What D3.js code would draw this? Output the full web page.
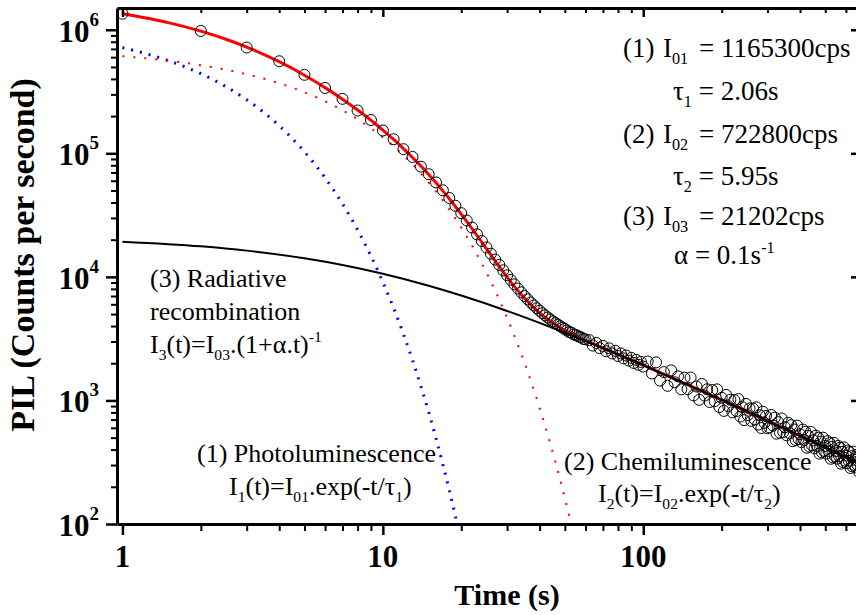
<!DOCTYPE html>
<html><head><meta charset="utf-8">
<script src="https://cdn.jsdelivr.net/npm/d3@7"></script>
<style>
body{margin:0;background:#fff}
svg{display:block}
text{font-family:"Liberation Serif","Times New Roman",serif;fill:#000}
</style>
</head><body>
<svg id="chart" width="856" height="615"></svg>
<script>
// ---------- DATA ----------
const times = [
 1,2,3,4,5,6,7,8,9,10,11,12,13,14,15,16,17,18,19,20,
 21,22,23,24,25,26,27,28,29,30,31,32,33,34,35,36,37,38,39,40,
 41,42,43,44,45,46,47,48,49,50,51,52,53,54,55,56,57,58,59,60,
 62,64,66,68,70,72,74,76,78,80,82,84,86,88,90,92,94,96,98,100,
 104,108,112,116,120,124,128,132,136,140,144,148,152,156,160,164,168,172,176,180,
 184,188,192,196,200,204,208,212,216,220,224,228,232,236,240,244,248,252,256,260,
 264,268,272,276,280,284,288,292,296,300,
 305,310,315,320,325,330,335,340,345,350,355,360,365,370,375,380,385,390,395,400,
 405,410,415,420,425,430,435,440,445,450,455,460,465,470,475,480,485,490,495,500,
 505,510,515,520,525,530,535,540,545,550,555,560,565,570,575,580,585,590,595,600,
 605,610,615,620,625,630,635,640,645,650,655,660,665,670,675,680
];
const counts = [
 1350000,978000,718000,556000,432000,338000,276000,222000,186000,153000,
 130000,108000,93500,78000,67800,58100,50200,43500,37600,32800,
 28600,25100,22100,19500,17300,15400,13800,12500,11300,10300,
 9450,8700,8050,7500,7000,6580,6200,5870,5580,5320,
 5080,4880,4690,4520,4370,4230,4110,3990,3880,3790,
 3680,3570,3540,3420,3390,3330,3260,3230,3140,3120,
 3080,2780,2920,2650,2760,2500,2640,2400,2520,2290,2400,2190,2310,2100,2210,2010,2130,1940,2050,1880,
 2065,1653,2033,1447,1696,1313,1751,1403,1568,1229,
 1528,1235,1532,1098,1297,1012,1358,1095,1231,971,
 1213,985,1229,885,1050,823,1109,898,1013,802,
 1006,820,1025,741,882,693,937,760,861,683,
 859,702,880,637,760,598,811,660,748,595,
 606,762,626,725,538,668,547,715,555,607,
 523,659,542,631,468,582,478,625,487,533,
 460,581,479,557,414,516,424,556,433,475,
 410,519,428,499,371,463,381,500,391,428,
 371,469,388,452,337,421,346,454,355,390,
 338,428,354,414,308,384,317,417,326,358,
 311,393,325,381,284,354,293,385,301,331,
 287,363,301,353,263,328
];
// fitted curves: [time, counts]
const fitTotal = [[1,1347400],[1.5,1142800],[2,975500],[2.5,838000],[3,724500],[4,551300],[5,428900],[6,340200],
 [7,274300],[8,224100],[9,185200],[10,154300],[11,129500],[12,109300],[13,92600],[14,78900],[15,67400],
 [16,57750],[17,49670],[18,42850],[19,37090],[20,32210],[22,24560],[24,19050],[26,15040],[28,12110],
 [30,9970],[32,8384],[34,7202],[36,6311],[38,5633],[40,5110],[43,4526],[46,4103],[50,3696],[55,3332],
 [60,3059],[70,2656],[80,2357],[100,1927],[150,1325],[200,1010],[300,684],[400,517],[500,416],[600,348],[700,299]];
const photoLum = [[1,717160],[1.5,562600],[2,441360],[2.5,346220],[3,271630],[4,167170],[5,102880],[6,63320],
 [7,38970],[8,23980],[9,14760],[10,9083],[11,5590],[12,3440],[13,2117],[14,1303],[15,802],[16,494],
 [17,304],[18,187],[19,115],[20,71]];
const chemiLum = [[1,610976],[1.5,561780],[2,516450],[3,436550],[4,369010],[5,311920],[6,263660],[7,222870],
 [8,188390],[9,159250],[10,134610],[11,113780],[12,96180],[14,68720],[16,49100],[18,35090],[20,25070],
 [22,17910],[24,12800],[26,9146],[28,6534],[30,4669],[32,3336],[34,2384],[36,1703],[38,1217],[40,870],
 [42,621],[44,444],[46,317],[48,227],[50,162],[52,116],[54,83],[56,59]];
const radRecomb = [[1,19275],[2,17668],[3,16309],[5,14135],[7,12472],[10,10601],[15,8481],[20,7067],[30,5301],
 [40,4240],[50,3534],[70,2650],[100,1927],[150,1325],[200,1010],[300,684],[400,517],[500,416],[700,299]];
const xTickValues = [1,10,100];
const xTickLabels = ["1","10","100"];
const yTickValues = [1e2,1e3,1e4,1e5,1e6];
const yTickExps = ["2","3","4","5","6"];

// ---------- CHART ----------
const svg = d3.select("#chart");
const L=117, R=857, T=8, B=524;
const x = d3.scaleLog().domain([0.953, 662]).range([L, R]);
const y = d3.scaleLog().domain([100, 1.5e6]).range([B, T]);

function minors(scale){
  const [a,b]=scale.domain(); const out=[];
  for(let e=Math.floor(Math.log10(a)); e<=Math.ceil(Math.log10(b)); e++)
    for(let m=2;m<=9;m++){const v=m*Math.pow(10,e); if(v>=a&&v<=b) out.push(v);}
  return out;
}
const xMin = minors(x), yMin = minors(y);

svg.append("defs").append("clipPath").attr("id","plot")
  .append("rect").attr("x",L).attr("y",T).attr("width",R-L).attr("height",B-T);

const line = d3.line().x(d=>x(d[0])).y(d=>y(d[1])).curve(d3.curveMonotoneX);
const curves = svg.append("g").attr("clip-path","url(#plot)");

// data circles
svg.append("g").selectAll("circle").data(times.map((t,i)=>[t,counts[i]])).join("circle")
  .attr("cx",d=>x(d[0])).attr("cy",d=>y(d[1])).attr("r",5.5)
  .attr("fill","none").attr("stroke","#000").attr("stroke-width",1);

curves.append("path").datum(photoLum).attr("d",line).attr("fill","none")
  .attr("stroke","#0000ff").attr("stroke-width",3).attr("stroke-dasharray","2,7");
curves.append("path").datum(chemiLum).attr("d",line).attr("fill","none")
  .attr("stroke","#ff0000").attr("stroke-width",2).attr("stroke-dasharray","2,9");
curves.append("path").datum(fitTotal).attr("d",line).attr("fill","none")
  .attr("stroke","#ff0000").attr("stroke-width",3);
curves.append("path").datum(radRecomb).attr("d",line).attr("fill","none")
  .attr("stroke","#000").attr("stroke-width",2);

// axes
function addAxis(axisFn, scale, tf, major, minor, majLen, minLen, domainW){
  const g1 = svg.append("g").attr("transform",tf)
    .call(axisFn(scale).tickValues(major).tickSize(majLen).tickSizeOuter(0).tickFormat(""));
  g1.select(".domain").attr("stroke","#000").attr("stroke-width",domainW);
  g1.selectAll(".tick line").attr("stroke","#000").attr("stroke-width",2.5);
  g1.selectAll(".tick text").remove();
  if(minor){
    const g2 = svg.append("g").attr("transform",tf)
      .call(axisFn(scale).tickValues(minor).tickSize(minLen).tickSizeOuter(0).tickFormat(""));
    g2.select(".domain").remove();
    g2.selectAll(".tick line").attr("stroke","#000").attr("stroke-width",2);
    g2.selectAll(".tick text").remove();
  }
}
addAxis(d3.axisTop, x, `translate(0,${T})`, xTickValues, xMin, -9, -5, 3);
addAxis(d3.axisRight, y, `translate(${R},0)`, yTickValues, null, -6, 0, 3);
addAxis(d3.axisLeft, y, `translate(${L},0)`, yTickValues, yMin, 11, 6, 3);
addAxis(d3.axisBottom, x, `translate(0,${B})`, xTickValues, xMin, 11, 7, 3);

// tick labels
yTickValues.forEach((v,i)=>{
  const t = svg.append("text").attr("x",99).attr("y",y(v)+12).attr("text-anchor","end")
    .attr("font-size",31).attr("font-weight","bold");
  t.append("tspan").text("10");
  t.append("tspan").text(yTickExps[i]).attr("font-size",19).attr("dy",-16);
});
xTickValues.forEach((v,i)=>{
  svg.append("text").attr("x",x(v)).attr("y",567).attr("text-anchor","middle")
    .attr("font-size",31).attr("font-weight","bold").text(xTickLabels[i]);
});
svg.append("text").attr("x",507).attr("y",605).attr("text-anchor","middle")
  .attr("font-size",30).attr("font-weight","bold").text("Time (s)");
svg.append("text").attr("transform","translate(34,255) rotate(-90)").attr("text-anchor","middle")
  .attr("font-size",34).attr("font-weight","bold").text("PIL (Counts per second)");

// rich text helper
function rich(x0,y0,parts,size){
  const t = svg.append("text").attr("x",x0).attr("y",y0).attr("font-size",size);
  let shift=0;
  parts.forEach(p=>{
    const [s,kind] = typeof p==="string"?[p,"n"]:p;
    const target = kind==="sub"?7:kind==="sup"?-11:0;
    const ts = t.append("tspan").text(s).attr("dy",target-shift);
    if(kind!=="n") ts.attr("font-size",size*0.6);
    shift=target;
  });
  return t;
}
const fs=27;
rich(623,57,["(1)"],fs); rich(663,57,["I",["01","sub"]],fs); rich(699,57,["= 1165300cps"],fs);
rich(673,100,["τ",["1","sub"]," = 2.06s"],fs);
rich(623,143,["(2)"],fs); rich(663,143,["I",["02","sub"]],fs); rich(699,143,["= 722800cps"],fs);
rich(673,185,["τ",["2","sub"]," = 5.95s"],fs);
rich(623,225,["(3)"],fs); rich(663,225,["I",["03","sub"]],fs); rich(699,225,["= 21202cps"],fs);
rich(674,264,["α = 0.1s",["-1","sup"]],fs);

const fa=26;
rich(150,287,["(3) Radiative"],fa);
rich(150,320,["recombination"],fa);
rich(150,353,["I",["3","sub"],"(t)=I",["03","sub"],".(1+α.t)",["-1","sup"]],fa);
rich(197,462,["(1) Photoluminescence"],fa);
rich(229,495,["I",["1","sub"],"(t)=I",["01","sub"],".exp(-t/τ",["1","sub"],")"],fa);
rich(564,470,["(2) Chemiluminescence"],fa);
rich(598,502,["I",["2","sub"],"(t)=I",["02","sub"],".exp(-t/τ",["2","sub"],")"],fa);
</script>
</body></html>
